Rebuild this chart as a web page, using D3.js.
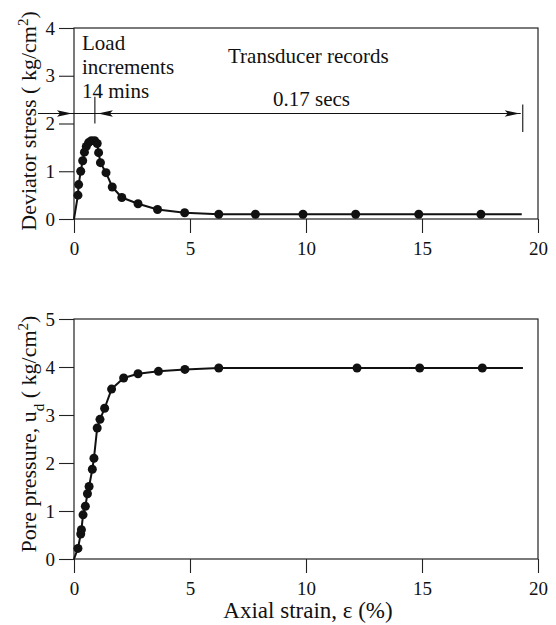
<!DOCTYPE html>
<html>
<head>
<meta charset="utf-8">
<script src="https://cdn.jsdelivr.net/npm/d3@7"></script>
<style>
  html, body { margin: 0; padding: 0; background: #fff; }
  svg { display: block; font-family: "Liberation Serif", "Times New Roman", serif; }
</style>
</head>
<body>
<svg id="chart" width="556" height="625"></svg>
<script>
// ---- data -------------------------------------------------------------
const strainTicks = [0, 5, 10, 15, 20];
const stressTicks = [0, 1, 2, 3, 4];
const poreTicks = [0, 1, 2, 3, 4, 5];

// deviator stress (kg/cm2) against axial strain (%)
const stressStrain = [0.17, 0.20, 0.29, 0.375, 0.45, 0.53, 0.63, 0.75, 0.89, 1.0, 1.06, 1.14,
                      1.38, 1.65, 2.06, 2.76, 3.6, 4.77, 6.24, 7.82, 9.87, 12.14, 14.86, 17.54];
const stressValues = [0.50, 0.72, 1.0, 1.22, 1.40, 1.52, 1.60, 1.64, 1.64, 1.58, 1.39, 1.18,
                      0.97, 0.67, 0.45, 0.32, 0.20, 0.13, 0.10, 0.10, 0.10, 0.10, 0.10, 0.10];
const stressLineStart = [0, 0];
const stressLineEnd = [19.3, 0.10];

// pore pressure u_d (kg/cm2) against axial strain (%)
const poreStrain = [0.17, 0.29, 0.32, 0.39, 0.49, 0.58, 0.65, 0.79, 0.86, 1.0, 1.12, 1.32,
                    1.62, 2.14, 2.76, 3.64, 4.78, 6.24, 12.2, 14.9, 17.6];
const poreValues = [0.22, 0.52, 0.61, 0.92, 1.10, 1.36, 1.51, 1.87, 2.10, 2.73, 2.91, 3.14,
                    3.54, 3.77, 3.86, 3.91, 3.95, 3.98, 3.98, 3.98, 3.98];
const poreLineStart = [0, 0];
const poreLineEnd = [19.35, 3.98];

// test phases: loading by increments, then fast transducer records
const loadLabel = ["Load", "increments", "14 mins"];
const recordLabel = "Transducer records";
const recordTime = "0.17 secs";
const phaseSplitStrain = 0.9;
const recordEndStrain = 19.3;
const phaseArrowStress = 2.21;
const phaseArrowFrom = -1.55;

// ---- layout -----------------------------------------------------------
const svg = d3.select("#chart");
const ink = "#111";
const x = d3.scaleLinear().domain([0, 20]).range([74, 538]);
const yTop = d3.scaleLinear().domain([0, 4]).range([219, 28]);
const yBot = d3.scaleLinear().domain([0, 5]).range([559, 319]);
const intFmt = d3.format("d");

function panel(y, yTicks, strain, values, start, end, titleParts, titleY) {
  const g = svg.append("g");
  const [y0, y1] = y.range();

  const xa = g.append("g")
    .attr("transform", `translate(0,${y0})`)
    .call(d3.axisBottom(x).tickValues(strainTicks).tickFormat(intFmt)
      .tickSize(14).tickPadding(9));
  const ya = g.append("g")
    .attr("transform", `translate(${x(0)},0)`)
    .call(d3.axisLeft(y).tickValues(yTicks).tickFormat(intFmt)
      .tickSize(15).tickPadding(4));
  [xa, ya].forEach(a => {
    a.select(".domain").remove();
    a.attr("font-family", null).attr("font-size", null);
    a.selectAll(".tick line").attr("stroke", "#222").attr("stroke-width", 1.1);
    a.selectAll(".tick text").attr("fill", ink).style("font-size", "19px");
  });

  g.append("rect")
    .attr("x", x(0)).attr("y", y1)
    .attr("width", x(20) - x(0)).attr("height", y0 - y1)
    .attr("fill", "none").attr("stroke", "#222").attr("stroke-width", 1.2);

  const pts = strain.map((s, i) => [s, values[i]]);
  const line = d3.line().x(d => x(d[0])).y(d => y(d[1]));
  g.append("path")
    .datum([start, ...pts, end])
    .attr("d", line)
    .attr("fill", "none").attr("stroke", ink)
    .attr("stroke-width", 2).attr("stroke-linejoin", "round");

  g.selectAll("circle.pt").data(pts).join("circle")
    .attr("class", "pt")
    .attr("cx", d => x(d[0])).attr("cy", d => y(d[1]))
    .attr("r", 4.5).attr("fill", ink);

  const t = g.append("text")
    .attr("transform", `translate(36,${titleY}) rotate(-90)`)
    .attr("text-anchor", "middle")
    .attr("fill", ink).style("font-size", "22px");
  titleParts.forEach(p => {
    const ts = t.append("tspan").text(p.text);
    if (p.shift) ts.attr("baseline-shift", p.shift).style("font-size", "15px");
  });
  return g;
}

panel(yTop, stressTicks, stressStrain, stressValues, stressLineStart, stressLineEnd,
  [{ text: "Deviator stress ( kg/cm" }, { text: "2", shift: "super" }, { text: ")" }], 121);

panel(yBot, poreTicks, poreStrain, poreValues, poreLineStart, poreLineEnd,
  [{ text: "Pore pressure, u" }, { text: "d", shift: "sub" }, { text: " ( kg/cm" },
   { text: "2", shift: "super" }, { text: ")" }], 434);

// x-axis title under the lower panel
svg.append("text")
  .attr("x", (x(0) + x(20)) / 2 + 2).attr("y", 618)
  .attr("text-anchor", "middle").attr("fill", ink)
  .style("font-size", "23px")
  .text("Axial strain, \u03b5 (%)");

// ---- phase annotation on the upper panel ------------------------------
const ann = svg.append("g").attr("fill", ink).style("font-size", "21px");
const ay = yTop(phaseArrowStress);

ann.append("line")
  .attr("x1", x(phaseArrowFrom)).attr("x2", x(recordEndStrain) - 1)
  .attr("y1", ay).attr("y2", ay)
  .attr("stroke", ink).attr("stroke-width", 1.1);

// split marker at the peak and end marker at the last record
ann.append("line")
  .attr("x1", x(phaseSplitStrain)).attr("x2", x(phaseSplitStrain))
  .attr("y1", yTop(2.56)).attr("y2", yTop(2.0))
  .attr("stroke", ink).attr("stroke-width", 1.1);
ann.append("line")
  .attr("x1", x(recordEndStrain) + 1).attr("x2", x(recordEndStrain) + 1)
  .attr("y1", yTop(2.4)).attr("y2", yTop(1.82))
  .attr("stroke", ink).attr("stroke-width", 1.1);

function arrowHead(tipX, dir) {
  const len = 15, hw = 3.2;
  const p = d3.path();
  p.moveTo(tipX, ay);
  p.lineTo(tipX - dir * len, ay - hw);
  p.lineTo(tipX - dir * len * 0.8, ay);
  p.lineTo(tipX - dir * len, ay + hw);
  p.closePath();
  ann.append("path").attr("d", p.toString()).attr("fill", ink);
}
arrowHead(x(0) - 2, 1);
arrowHead(x(phaseSplitStrain) + 3, -1);
arrowHead(x(recordEndStrain) - 2, 1);

const loadText = ann.append("text").attr("x", 82).attr("y", 50);
loadLabel.forEach((s, i) => {
  loadText.append("tspan").attr("x", 82).attr("dy", i === 0 ? 0 : 24).text(s);
});
ann.append("text").attr("x", 228).attr("y", 63).text(recordLabel);
ann.append("text").attr("x", 273).attr("y", 106).text(recordTime);
</script>
</body>
</html>
